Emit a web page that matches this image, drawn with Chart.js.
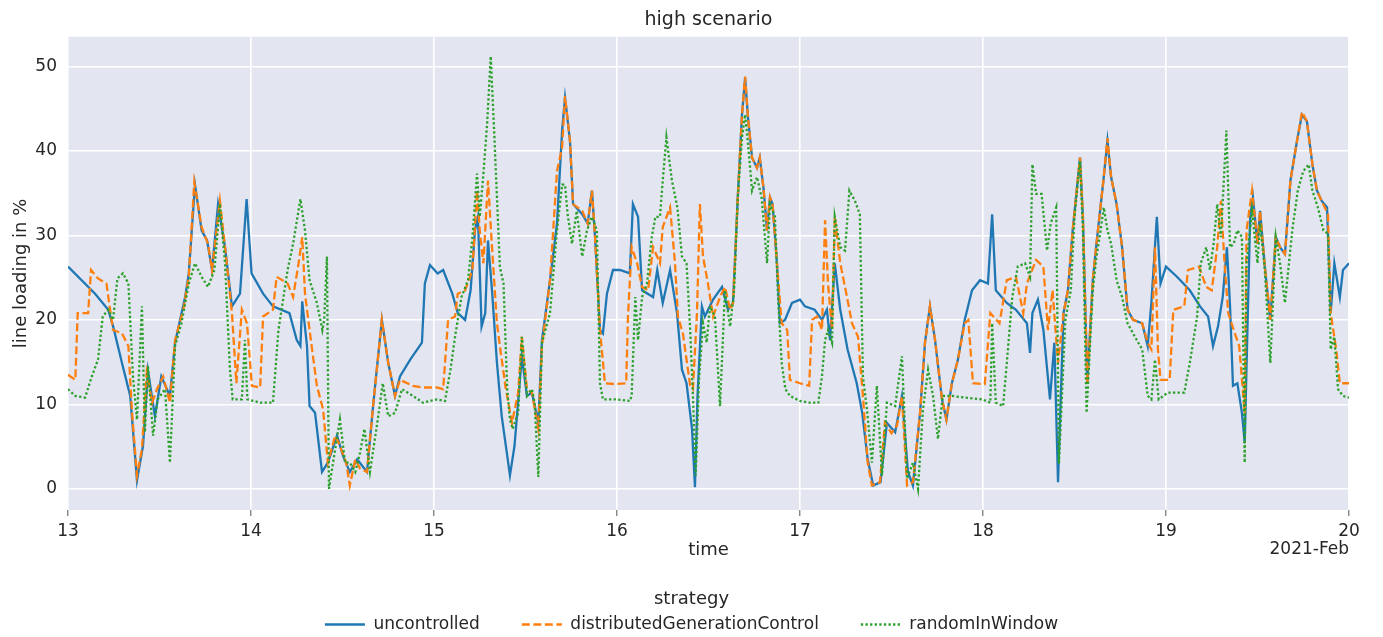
<!DOCTYPE html>
<html>
<head>
<meta charset="utf-8">
<title>high scenario</title>
<script src="https://cdn.jsdelivr.net/npm/chart.js@4.4.1/dist/chart.umd.min.js"></script>
<style>
    html, body { margin: 0; padding: 0; background: #ffffff; }
    #graph { display: block; }
</style>
</head>
<body>
<canvas id="graph" width="1383" height="637"></canvas>
<script>
// Time in days of February 2021, one line per day
const uncontrolledTime = [
    13.0, 13.148, 13.22, 13.247, 13.295, 13.34, 13.377, 13.41, 13.437, 13.475, 13.51, 13.557, 13.585, 13.64, 13.66, 13.694, 13.73, 13.76, 13.787, 13.82, 13.858, 13.896, 13.94, 13.976,
    14.003, 14.066, 14.12, 14.21, 14.25, 14.27, 14.28, 14.306, 14.32, 14.35, 14.388, 14.42, 14.47, 14.503, 14.54, 14.58, 14.634, 14.667, 14.715, 14.75, 14.787, 14.814, 14.87, 14.934, 14.95, 14.978,
    15.02, 15.05, 15.1, 15.13, 15.17, 15.2, 15.224, 15.24, 15.26, 15.28, 15.295, 15.317, 15.344, 15.37, 15.39, 15.415, 15.44, 15.48, 15.508, 15.535, 15.57, 15.59, 15.634, 15.672, 15.7, 15.716, 15.743, 15.76, 15.81, 15.84, 15.863, 15.88, 15.907, 15.923, 15.945, 15.978,
    16.016, 16.07, 16.087, 16.115, 16.137, 16.197, 16.22, 16.25, 16.29, 16.328, 16.355, 16.38, 16.41, 16.426, 16.44, 16.464, 16.48, 16.525, 16.574, 16.607, 16.634, 16.66, 16.683, 16.7, 16.716, 16.738, 16.765, 16.78, 16.8, 16.82, 16.836, 16.85, 16.874, 16.89, 16.918, 16.956,
    17.0, 17.027, 17.08, 17.12, 17.147, 17.164, 17.19, 17.22, 17.26, 17.31, 17.34, 17.37, 17.4, 17.44, 17.475, 17.52, 17.557, 17.59, 17.617, 17.656, 17.683, 17.71, 17.738, 17.776, 17.8, 17.83, 17.863, 17.9, 17.94, 17.984,
    18.027, 18.05, 18.07, 18.13, 18.18, 18.24, 18.257, 18.27, 18.3, 18.33, 18.366, 18.39, 18.41, 18.44, 18.464, 18.49, 18.53, 18.546, 18.57, 18.6, 18.62, 18.658, 18.68, 18.7, 18.73, 18.76, 18.79, 18.82, 18.87, 18.9, 18.92, 18.95, 18.97,
    19.0, 19.06, 19.13, 19.186, 19.23, 19.257, 19.284, 19.31, 19.333, 19.35, 19.366, 19.39, 19.415, 19.43, 19.46, 19.475, 19.5, 19.514, 19.54, 19.57, 19.6, 19.623, 19.65, 19.68, 19.716, 19.743, 19.77, 19.8, 19.825, 19.85, 19.88, 19.9, 19.92, 19.95, 19.967, 20.0
];
const uncontrolledLoad = [
    26.3, 23.1, 21.2, 19.2, 14.9, 11.0, 1.0, 5.1, 14.0, 8.6, 13.3, 11.0, 17.3, 22.7, 25.5, 36.0, 30.6, 29.4, 25.9, 33.7, 28.6, 21.6, 23.1, 34.3,
    25.5, 23.1, 21.6, 20.8, 17.6, 16.9, 22.2, 16.9, 9.8, 9.0, 2.0, 3.1, 6.3, 3.9, 2.0, 3.5, 2.0, 9.8, 20.0, 14.9, 11.0, 13.3, 15.3, 17.3, 24.3, 26.5,
    25.5, 25.9, 23.1, 20.8, 20.0, 23.5, 30.6, 32.2, 19.2, 20.8, 29.4, 23.5, 14.9, 8.6, 5.5, 1.6, 5.1, 15.7, 11.0, 11.4, 7.8, 17.6, 24.7, 31.4, 42.4, 46.3, 41.2, 33.7, 32.5, 31.4, 35.3, 29.8, 18.8, 18.4, 23.1, 25.9,
    25.9, 25.5, 33.7, 32.2, 23.5, 22.7, 25.9, 22.0, 25.9, 20.8, 14.1, 12.5, 7.1, 0.2, 11.0, 21.6, 20.4, 22.4, 23.9, 21.2, 22.0, 34.5, 44.3, 48.6, 43.9, 39.2, 38.0, 39.2, 35.7, 30.6, 34.5, 33.7, 26.7, 19.6, 20.0, 22.0,
    22.4, 21.6, 21.2, 20.0, 21.2, 17.6, 26.7, 21.2, 16.5, 12.5, 9.0, 3.5, 0.4, 0.8, 7.8, 6.7, 11.0, 2.0, 0.4, 9.0, 17.3, 21.6, 17.6, 10.6, 8.2, 12.5, 15.3, 20.0, 23.5, 24.7,
    24.3, 32.5, 23.5, 22.0, 21.2, 19.6, 16.1, 20.8, 22.4, 18.8, 10.6, 17.3, 0.8, 20.8, 23.5, 30.6, 39.2, 32.2, 12.5, 24.7, 29.0, 36.5, 41.2, 36.9, 33.7, 28.6, 21.2, 20.0, 19.6, 16.9, 22.0, 32.2, 24.3,
    26.3, 25.1, 23.5, 21.6, 20.4, 16.9, 19.2, 22.7, 28.6, 21.6, 12.2, 12.5, 9.0, 5.5, 32.2, 34.5, 29.0, 32.9, 26.3, 20.0, 29.8, 28.6, 27.8, 36.5, 41.2, 44.3, 43.5, 38.4, 35.3, 34.1, 33.3, 20.8, 26.7, 22.7, 25.9, 26.7
];

const distributedTime = [
    13.0, 13.04, 13.053, 13.11, 13.126, 13.164, 13.21, 13.246, 13.295, 13.33, 13.35, 13.377, 13.404, 13.43, 13.46, 13.486, 13.52, 13.557, 13.585, 13.63, 13.66, 13.69, 13.73, 13.765, 13.787, 13.83, 13.858, 13.896, 13.92, 13.95, 13.978,
    14.005, 14.05, 14.066, 14.12, 14.14, 14.2, 14.23, 14.26, 14.28, 14.295, 14.32, 14.36, 14.394, 14.42, 14.46, 14.486, 14.52, 14.54, 14.57, 14.596, 14.634, 14.667, 14.715, 14.75, 14.787, 14.814, 14.885, 14.934, 14.96,
    15.016, 15.05, 15.077, 15.115, 15.13, 15.17, 15.21, 15.235, 15.25, 15.27, 15.295, 15.317, 15.344, 15.36, 15.39, 15.426, 15.46, 15.48, 15.508, 15.535, 15.57, 15.59, 15.634, 15.672, 15.7, 15.716, 15.743, 15.76, 15.81, 15.84, 15.863, 15.88, 15.907, 15.934, 15.99,
    16.05, 16.06, 16.08, 16.11, 16.137, 16.17, 16.197, 16.235, 16.25, 16.29, 16.317, 16.333, 16.36, 16.4, 16.415, 16.437, 16.453, 16.47, 16.497, 16.525, 16.563, 16.59, 16.618, 16.634, 16.66, 16.683, 16.7, 16.716, 16.738, 16.765, 16.78, 16.8, 16.82, 16.836, 16.85, 16.874, 16.9, 16.93, 16.945,
    17.0, 17.05, 17.066, 17.093, 17.12, 17.137, 17.153, 17.175, 17.19, 17.22, 17.257, 17.284, 17.317, 17.344, 17.37, 17.393, 17.437, 17.464, 17.5, 17.53, 17.557, 17.585, 17.617, 17.656, 17.683, 17.71, 17.738, 17.776, 17.8, 17.83, 17.863, 17.9, 17.92, 17.945,
    18.01, 18.04, 18.09, 18.13, 18.18, 18.22, 18.24, 18.29, 18.33, 18.355, 18.38, 18.41, 18.44, 18.464, 18.49, 18.53, 18.546, 18.57, 18.6, 18.62, 18.658, 18.68, 18.7, 18.73, 18.76, 18.79, 18.82, 18.87, 18.9, 18.92, 18.94, 18.956, 18.97,
    19.02, 19.04, 19.1, 19.12, 19.18, 19.22, 19.25, 19.28, 19.3, 19.32, 19.34, 19.37, 19.4, 19.43, 19.44, 19.47, 19.5, 19.514, 19.54, 19.57, 19.6, 19.623, 19.65, 19.68, 19.716, 19.743, 19.77, 19.8, 19.825, 19.85, 19.885, 19.9, 19.93, 19.95, 20.0
];
const distributedLoad = [
    13.5, 12.9, 20.8, 20.8, 25.9, 24.9, 24.3, 18.8, 18.4, 16.9, 9.0, 1.6, 4.7, 13.7, 10.2, 11.8, 13.3, 10.2, 17.6, 21.2, 25.1, 36.3, 31.0, 29.0, 25.9, 34.1, 28.6, 20.8, 12.5, 21.2, 19.6,
    12.2, 12.0, 20.4, 21.2, 25.1, 24.3, 22.7, 26.7, 29.8, 23.1, 18.8, 12.2, 9.4, 3.1, 6.3, 5.1, 3.1, 0.4, 3.5, 2.4, 2.0, 9.8, 20.0, 14.9, 11.0, 12.9, 12.2, 12.0, 12.0,
    12.0, 11.8, 20.0, 20.4, 23.1, 23.5, 25.9, 35.3, 30.6, 26.7, 36.5, 28.6, 19.6, 16.9, 12.2, 7.8, 11.4, 18.0, 11.8, 11.4, 7.1, 16.9, 24.7, 37.6, 40.4, 46.5, 41.2, 33.7, 32.9, 31.4, 35.3, 29.8, 18.8, 12.5, 12.4,
    12.5, 20.4, 28.6, 26.7, 23.9, 23.5, 28.6, 26.7, 31.0, 33.3, 26.7, 20.4, 18.4, 12.2, 11.8, 20.8, 33.7, 27.5, 24.3, 20.4, 22.7, 23.9, 21.2, 22.0, 34.5, 44.3, 48.8, 43.9, 39.2, 38.0, 39.2, 35.7, 30.6, 34.5, 33.7, 26.7, 19.6, 18.8, 12.9,
    12.5, 12.2, 20.0, 20.4, 18.8, 31.8, 24.3, 18.8, 32.2, 26.7, 22.7, 19.6, 18.0, 11.0, 3.1, 0.4, 0.8, 7.8, 6.6, 7.5, 11.0, 0.4, 0.8, 9.0, 17.3, 21.6, 17.6, 10.6, 8.2, 12.5, 15.3, 19.6, 20.0, 12.5,
    12.4, 20.8, 19.6, 24.7, 25.1, 20.8, 24.3, 27.1, 26.3, 18.8, 23.5, 14.9, 20.8, 23.5, 30.6, 39.2, 32.2, 12.5, 24.7, 29.0, 36.5, 41.5, 36.9, 33.7, 28.6, 21.2, 20.0, 19.6, 17.3, 16.5, 28.6, 16.5, 12.9,
    12.9, 21.2, 21.6, 25.9, 26.3, 23.9, 23.5, 28.6, 34.1, 26.7, 20.8, 18.8, 16.9, 9.0, 30.6, 35.3, 29.0, 32.9, 26.3, 20.0, 29.8, 28.6, 27.8, 36.5, 41.2, 44.6, 43.5, 38.4, 35.3, 34.1, 32.5, 20.8, 16.5, 12.5, 12.5
];

const randomTime = [
    13.0, 13.04, 13.093, 13.13, 13.164, 13.19, 13.22, 13.246, 13.27, 13.3, 13.33, 13.355, 13.377, 13.404, 13.42, 13.437, 13.465, 13.49, 13.53, 13.557, 13.585, 13.62, 13.66, 13.694, 13.73, 13.765, 13.8, 13.83, 13.858, 13.885, 13.9, 13.95, 13.967, 13.98,
    14.05, 14.12, 14.15, 14.2, 14.23, 14.27, 14.295, 14.32, 14.36, 14.39, 14.4, 14.415, 14.426, 14.46, 14.486, 14.514, 14.54, 14.57, 14.596, 14.62, 14.65, 14.69, 14.72, 14.75, 14.787, 14.825, 14.885, 14.94,
    15.016, 15.06, 15.09, 15.115, 15.15, 15.186, 15.21, 15.235, 15.25, 15.27, 15.29, 15.31, 15.328, 15.344, 15.36, 15.38, 15.4, 15.415, 15.43, 15.46, 15.48, 15.508, 15.535, 15.55, 15.57, 15.59, 15.634, 15.672, 15.7, 15.716, 15.73, 15.754, 15.78, 15.81, 15.836, 15.863, 15.89, 15.907, 15.923, 15.99,
    16.07, 16.08, 16.1, 16.115, 16.137, 16.164, 16.19, 16.21, 16.235, 16.25, 16.27, 16.3, 16.33, 16.355, 16.38, 16.4, 16.415, 16.43, 16.448, 16.47, 16.49, 16.508, 16.535, 16.563, 16.59, 16.618, 16.64, 16.66, 16.683, 16.7, 16.716, 16.738, 16.765, 16.79, 16.82, 16.836, 16.863, 16.88, 16.9, 16.92, 16.945,
    17.0, 17.05, 17.1, 17.12, 17.137, 17.153, 17.175, 17.19, 17.22, 17.246, 17.27, 17.3, 17.327, 17.344, 17.366, 17.393, 17.42, 17.448, 17.475, 17.52, 17.557, 17.585, 17.617, 17.645, 17.672, 17.7, 17.727, 17.754, 17.78, 17.83, 17.9, 17.995,
    18.04, 18.05, 18.07, 18.11, 18.13, 18.16, 18.19, 18.23, 18.257, 18.27, 18.29, 18.32, 18.35, 18.37, 18.4, 18.415, 18.45, 18.48, 18.5, 18.53, 18.546, 18.566, 18.6, 18.62, 18.64, 18.66, 18.68, 18.7, 18.73, 18.76, 18.79, 18.83, 18.87, 18.9, 18.92, 18.94, 18.96,
    19.01, 19.1, 19.13, 19.17, 19.19, 19.22, 19.24, 19.26, 19.28, 19.3, 19.33, 19.35, 19.37, 19.39, 19.415, 19.43, 19.44, 19.47, 19.5, 19.514, 19.54, 19.57, 19.6, 19.623, 19.65, 19.69, 19.72, 19.75, 19.78, 19.8, 19.83, 19.86, 19.885, 19.9, 19.92, 19.94, 19.967, 20.0
];
const randomLoad = [
    11.8, 11.0, 10.8, 13.3, 15.3, 20.4, 21.2, 20.0, 24.9, 25.5, 24.3, 13.3, 8.2, 21.6, 6.7, 14.5, 6.3, 10.6, 11.8, 3.1, 16.9, 19.6, 24.3, 26.7, 25.1, 23.9, 25.9, 33.7, 26.7, 14.1, 10.6, 10.6, 17.6, 10.6,
    10.2, 10.2, 18.8, 25.9, 29.0, 34.3, 30.6, 24.7, 22.0, 18.8, 20.0, 27.5, 0.0, 4.7, 8.2, 3.1, 3.1, 2.0, 4.3, 7.1, 2.0, 7.8, 12.5, 8.6, 9.0, 11.8, 11.0, 10.2,
    10.6, 10.4, 14.1, 18.0, 22.7, 24.7, 29.8, 37.3, 32.2, 37.3, 43.1, 51.2, 42.7, 34.5, 26.3, 24.3, 11.8, 8.2, 7.1, 9.0, 18.0, 11.0, 11.8, 10.2, 1.4, 17.3, 20.8, 30.6, 36.0, 36.0, 32.5, 29.0, 32.9, 27.5, 30.6, 32.2, 30.6, 12.5, 10.6, 10.6,
    10.4, 11.0, 22.7, 17.6, 22.7, 24.3, 29.8, 32.2, 32.2, 36.5, 41.6, 36.5, 33.3, 27.5, 26.7, 18.8, 11.0, 1.6, 12.9, 19.6, 17.3, 21.6, 20.4, 9.8, 23.5, 19.2, 23.5, 34.5, 41.6, 44.3, 40.8, 35.3, 36.9, 34.5, 26.7, 33.7, 32.2, 22.7, 14.9, 11.8, 11.0,
    10.4, 10.2, 10.2, 13.3, 17.6, 18.8, 17.3, 32.2, 28.6, 28.2, 35.3, 34.1, 32.5, 13.3, 9.4, 3.1, 12.2, 1.6, 10.2, 9.8, 15.7, 1.2, 3.1, 0.0, 9.4, 14.1, 11.0, 5.9, 11.0, 11.0, 10.8, 10.6,
    10.2, 19.6, 10.2, 9.8, 14.9, 22.7, 26.3, 26.7, 25.1, 38.4, 34.9, 34.9, 28.2, 31.4, 33.3, 3.0, 20.0, 23.5, 32.2, 38.8, 30.6, 9.0, 23.5, 27.5, 30.2, 33.3, 30.6, 29.0, 24.7, 22.7, 19.6, 18.0, 16.5, 11.0, 10.6, 15.3, 10.6,
    11.4, 11.4, 14.9, 20.4, 26.7, 28.6, 25.9, 29.0, 33.7, 29.8, 42.4, 28.6, 29.0, 30.6, 29.8, 3.1, 26.7, 32.9, 26.7, 31.4, 25.9, 14.9, 29.8, 26.7, 22.0, 30.6, 35.3, 37.6, 38.4, 35.3, 33.3, 30.6, 30.2, 16.5, 18.0, 11.8, 11.0, 10.8
];

const xTicks = [13, 14, 15, 16, 17, 18, 19, 20];
const yTicks = [0, 10, 20, 30, 40, 50];
const dateLabel = '2021-Feb';

document.addEventListener('DOMContentLoaded', function() {
    const textColor = '#262626';
    Chart.defaults.font.family = '"DejaVu Sans", "Liberation Sans", sans-serif';
    Chart.defaults.color = textColor;

    // Seaborn-like grey plot area
    const plotBackground = {
        id: 'plotBackground',
        beforeDraw(chart) {
            const {ctx, chartArea} = chart;
            ctx.save();
            ctx.fillStyle = '#e3e5f0';
            ctx.fillRect(chartArea.left, chartArea.top, chartArea.width, chartArea.height);
            ctx.restore();
        }
    };

    // Month label under the last x tick
    const dateOffset = {
        id: 'dateOffset',
        afterDraw(chart) {
            const {ctx, chartArea} = chart;
            ctx.save();
            ctx.font = '17px "DejaVu Sans", sans-serif';
            ctx.fillStyle = textColor;
            ctx.textAlign = 'right';
            ctx.textBaseline = 'middle';
            ctx.fillText(dateLabel, chartArea.right, chartArea.bottom + 40);
            ctx.restore();
        }
    };

    function toPoints(times, values) {
        return times.map((t, i) => ({x: t, y: values[i]}));
    }

    // Legend items with the dataset's own dash pattern
    function strategyLabels(chart) {
        const items = Chart.defaults.plugins.legend.labels.generateLabels(chart);
        items.forEach(item => {
            const ds = chart.data.datasets[item.datasetIndex];
            item.lineDash = ds.borderDash || [];
            item.lineWidth = ds.borderWidth;
            item.strokeStyle = ds.borderColor;
        });
        return items;
    }

    const defaultDatasetOptions = {
        fill: false,
        tension: 0,
        pointRadius: 0,
        borderWidth: 2.3
    };

    const datasets = [
        {
            label: 'uncontrolled',
            data: toPoints(uncontrolledTime, uncontrolledLoad),
            borderColor: '#1f77b4',
            backgroundColor: '#1f77b4',
            order: 2,
            ...defaultDatasetOptions
        },
        {
            label: 'distributedGenerationControl',
            data: toPoints(distributedTime, distributedLoad),
            borderColor: '#ff7f0e',
            backgroundColor: '#ff7f0e',
            borderDash: [8, 3.5],
            order: 1,
            ...defaultDatasetOptions
        },
        {
            label: 'randomInWindow',
            data: toPoints(randomTime, randomLoad),
            borderColor: '#2ca02c',
            backgroundColor: '#2ca02c',
            borderDash: [2.3, 2.3],
            order: 0,
            ...defaultDatasetOptions
        }
    ];

    const ctx = document.getElementById('graph').getContext('2d');
    new Chart(ctx, {
        type: 'line',
        data: { datasets: datasets },
        plugins: [plotBackground, dateOffset],
        options: {
            responsive: false,
            animation: false,
            events: [],
            layout: {
                padding: { left: 0, right: 0, top: 0, bottom: -6 }
            },
            scales: {
                x: {
                    type: 'linear',
                    min: 13,
                    max: 20,
                    afterBuildTicks: scale => { scale.ticks = xTicks.map(v => ({ value: v })); },
                    afterFit: scale => { scale.height = 80.2; },
                    ticks: {
                        padding: 5,
                        font: { size: 17 },
                        callback: value => String(value)
                    },
                    grid: {
                        color: '#ffffff',
                        lineWidth: 1.6,
                        drawTicks: true,
                        tickLength: 6,
                        tickColor: '#555555',
                        tickWidth: 1
                    },
                    border: { display: false },
                    title: {
                        display: true,
                        text: 'time',
                        font: { size: 18 },
                        padding: { top: 0, bottom: 29.4 }
                    }
                },
                y: {
                    min: -2.5,
                    max: 53.5,
                    afterBuildTicks: scale => { scale.ticks = yTicks.map(v => ({ value: v })); },
                    afterFit: scale => { scale.width = 68; },
                    ticks: {
                        padding: 11,
                        font: { size: 17 }
                    },
                    grid: {
                        color: '#ffffff',
                        lineWidth: 1.6,
                        drawTicks: false
                    },
                    border: { display: false },
                    title: {
                        display: true,
                        text: 'line loading in %',
                        font: { size: 18 },
                        padding: { top: 11, bottom: 0 }
                    }
                },
                // empty right margin, so the legend stays centred on the figure
                yRight: {
                    position: 'right',
                    min: -2.5,
                    max: 53.5,
                    afterFit: scale => { scale.width = 34; },
                    ticks: { display: false },
                    grid: { display: false },
                    border: { display: false }
                }
            },
            plugins: {
                title: {
                    display: true,
                    fullSize: false,
                    text: 'high scenario',
                    font: { size: 19, weight: 'normal' },
                    color: textColor,
                    padding: { top: 9, bottom: 5 }
                },
                legend: {
                    position: 'bottom',
                    labels: {
                        usePointStyle: true,
                        pointStyle: 'line',
                        pointStyleWidth: 40,
                        padding: 42,
                        font: { size: 17 },
                        color: textColor,
                        generateLabels: strategyLabels,
                        sort: (a, b) => a.datasetIndex - b.datasetIndex
                    },
                    title: {
                        display: true,
                        text: 'strategy',
                        font: { size: 18 },
                        color: textColor,
                        padding: { top: 0, bottom: -37.8 }
                    }
                },
                tooltip: { enabled: false }
            }
        }
    });
});
</script>
</body>
</html>
